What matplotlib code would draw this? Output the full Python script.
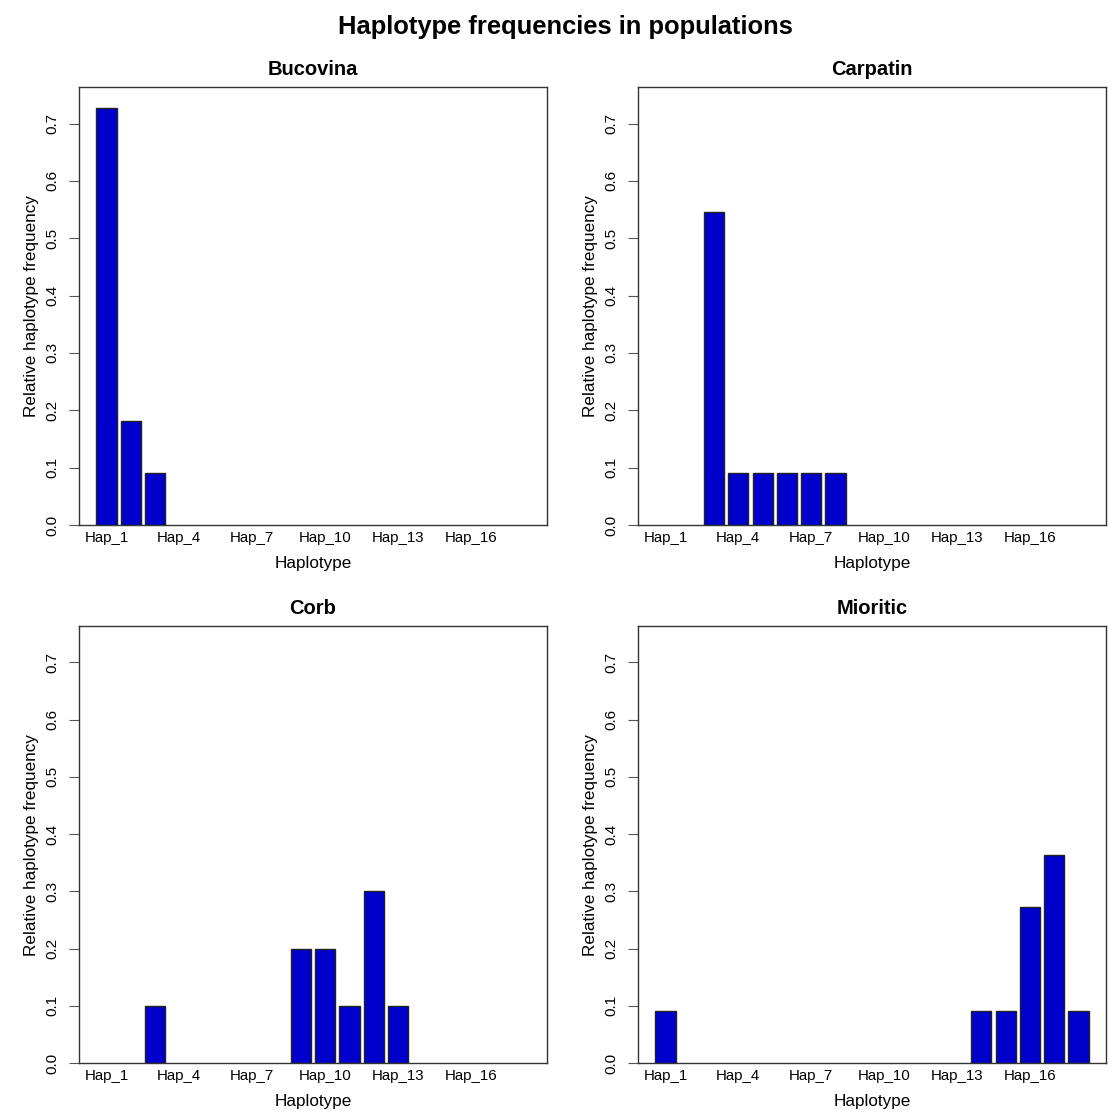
import numpy as np
import matplotlib
matplotlib.use("Agg")
import matplotlib.pyplot as plt

plt.rcParams['font.family'] = ['Liberation Sans', 'DejaVu Sans']

# haplotype names and relative frequencies per population
haplotypes = [f"Hap_{i}" for i in range(1, 19)]
bucovina = [8/11, 2/11, 1/11, 0, 0, 0, 0, 0, 0, 0, 0, 0, 0, 0, 0, 0, 0, 0]
carpatin = [0, 0, 6/11, 1/11, 1/11, 1/11, 1/11, 1/11, 0, 0, 0, 0, 0, 0, 0, 0, 0, 0]
corb = [0, 0, 0.1, 0, 0, 0, 0, 0, 0.2, 0.2, 0.1, 0.3, 0.1, 0, 0, 0, 0, 0]
mioritic = [1/11, 0, 0, 0, 0, 0, 0, 0, 0, 0, 0, 0, 0, 1/11, 1/11, 3/11, 4/11, 1/11]
populations = ["Bucovina", "Carpatin", "Corb", "Mioritic"]
freqs = [bucovina, carpatin, corb, mioritic]

W = H = 1119
fig = plt.figure(figsize=(W/100, H/100), dpi=100)

# box positions in pixels (left, top, right, bottom)
boxes = [(79, 87, 547, 525), (638, 87, 1106, 525),
         (79, 626, 547, 1063), (638, 626, 1106, 1063)]

n = len(haplotypes)
x = 0.7 + 1.2*np.arange(n)   # R barplot positions (width 1, space 0.2)
ymax = max(max(f) for f in freqs) * 1.05
span = 21.6 - 0.2
xlim = (0.2 - 0.04*span, 21.6 + 0.04*span)

for (l, t, r, b), name, vals in zip(boxes, populations, freqs):
    ax = fig.add_axes([l/W, 1 - b/H, (r-l)/W, (b-t)/H])
    vals = np.array(vals)
    nz = vals > 0
    ax.bar(x[nz], vals[nz], width=1.0, color='#0000CD', edgecolor='#222222', linewidth=1.0)
    ax.set_xlim(*xlim)
    ax.set_ylim(0, ymax)
    ax.set_xticks(x[::3])
    ax.set_xticklabels(haplotypes[::3], fontsize=10.8)
    ax.tick_params(axis='x', length=0, pad=4.5)
    yt = np.arange(0, 0.71, 0.1)
    ax.set_yticks(yt)
    ax.set_yticklabels([f"{v:.1f}" for v in yt], rotation=90, va='center', fontsize=11)
    ax.tick_params(axis='y', length=7, pad=7, color='#555555')
    for s in ax.spines.values():
        s.set_color('#333333')
        s.set_linewidth(1.0)
    ax.set_title(name, fontsize=14.5, fontweight='bold', pad=8.5)
    ax.set_xlabel("Haplotype", fontsize=12.3, labelpad=8)
    ax.set_ylabel("Relative haplotype frequency", fontsize=12.3, labelpad=5)

fig.text(565/W, 1 - 27/H, "Haplotype frequencies in populations",
         ha='center', va='center', fontsize=18.4, fontweight='bold')

fig.savefig("out.png", dpi=100, facecolor='white')
